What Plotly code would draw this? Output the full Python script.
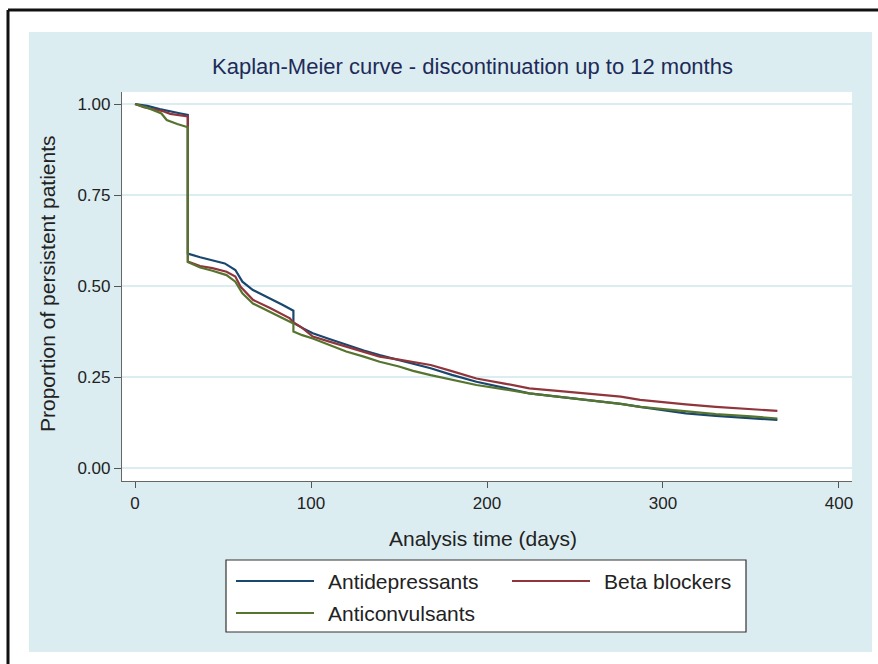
import plotly.graph_objects as go

# ---------------- data ----------------
days_antidep = [0, 7, 14, 20, 26, 30, 30, 37, 44, 51, 57, 61, 67, 77, 84, 90, 90, 95, 101, 110, 120,
                130, 139, 150, 158, 168, 180, 194, 210, 224, 240, 257, 276, 287, 300, 313, 330, 350, 365]
surv_antidep = [1.0, 0.995, 0.986, 0.981, 0.974, 0.970, 0.589, 0.579, 0.571, 0.562, 0.544, 0.512, 0.489,
                0.466, 0.448, 0.432, 0.399, 0.385, 0.370, 0.355, 0.338, 0.323, 0.310, 0.296, 0.286, 0.274,
                0.256, 0.237, 0.220, 0.205, 0.196, 0.187, 0.176, 0.168, 0.160, 0.150, 0.143, 0.137, 0.132]

days_beta = [0, 5, 10, 16, 20, 30, 30, 37, 44, 52, 57, 60, 67, 77, 88, 90, 95, 101, 110, 120, 130,
             139, 150, 158, 168, 180, 194, 210, 224, 240, 257, 276, 287, 300, 313, 330, 350, 365]
surv_beta = [1.0, 0.991, 0.986, 0.980, 0.973, 0.966, 0.567, 0.555, 0.549, 0.539, 0.526, 0.498, 0.462,
             0.439, 0.411, 0.400, 0.385, 0.361, 0.348, 0.333, 0.320, 0.306, 0.298, 0.292, 0.283, 0.266,
             0.246, 0.232, 0.219, 0.212, 0.205, 0.196, 0.187, 0.182, 0.175, 0.168, 0.162, 0.157]

days_anticonv = [0, 8, 15, 18, 24, 28, 30, 30, 37, 44, 52, 57, 61, 67, 77, 88, 90, 90, 95, 101, 110,
                 120, 130, 139, 150, 158, 168, 180, 194, 210, 224, 240, 257, 276, 287, 300, 313, 330, 350, 365]
surv_anticonv = [1.0, 0.988, 0.974, 0.956, 0.945, 0.938, 0.936, 0.566, 0.551, 0.542, 0.530, 0.512, 0.480,
                 0.452, 0.429, 0.402, 0.397, 0.375, 0.365, 0.356, 0.338, 0.320, 0.306, 0.292, 0.279, 0.267,
                 0.255, 0.243, 0.228, 0.216, 0.205, 0.196, 0.187, 0.176, 0.168, 0.162, 0.155, 0.148, 0.142, 0.136]

series_names = ["Antidepressants", "Beta blockers", "Anticonvulsants"]
series_colors = ["#1a476f", "#90353b", "#55752f"]
x_ticks = [0, 100, 200, 300, 400]
y_ticks = [0.0, 0.25, 0.5, 0.75, 1.0]
y_ticklabels = ["0.00", "0.25", "0.50", "0.75", "1.00"]

# ---------------- layout geometry (pixels) ----------------
W, H = 878, 664
L, R, T, B = 122, 852, 92, 481          # plot area edges
pw, ph = R - L, B - T


def px(x):
    return (x - L) / pw


def py(y):
    return (B - y) / ph


FONT = "Liberation Sans, Arial, sans-serif"
BG = "#dcedf1"

fig = go.Figure()
data = [(days_antidep, surv_antidep), (days_beta, surv_beta), (days_anticonv, surv_anticonv)]
for (d, s), name, col in zip(data, series_names, series_colors):
    fig.add_trace(go.Scatter(x=d, y=s, mode="lines", name=name,
                             line=dict(color=col, width=2.2), showlegend=False))

shapes = [
    # light blue graph region
    dict(type="rect", xref="paper", yref="paper", x0=px(29), x1=px(872), y0=py(652), y1=py(32),
         fillcolor=BG, line=dict(width=0), layer="below"),
    # white plot region
    dict(type="rect", xref="paper", yref="paper", x0=0, x1=1, y0=0, y1=1,
         fillcolor="white", line=dict(width=0), layer="below"),
    # black outer frame (top and left)
    dict(type="line", xref="paper", yref="paper", x0=px(8), x1=px(880), y0=py(10), y1=py(10),
         line=dict(color="#111111", width=3)),
    dict(type="line", xref="paper", yref="paper", x0=px(8), x1=px(8), y0=py(10), y1=py(666),
         line=dict(color="#111111", width=3)),
    # legend box
    dict(type="rect", xref="paper", yref="paper", x0=px(226), x1=px(746), y0=py(632), y1=py(560),
         fillcolor="white", line=dict(color="#333333", width=1.2)),
]

annotations = [
    dict(text="Kaplan-Meier curve - discontinuation up to 12 months", xref="paper", yref="paper",
         x=px(472), y=py(67), showarrow=False, xanchor="center", yanchor="middle",
         font=dict(family=FONT, size=22, color="#1e2b58")),
    dict(text="Analysis time (days)", xref="paper", yref="paper", x=px(483), y=py(538),
         showarrow=False, xanchor="center", yanchor="middle",
         font=dict(family=FONT, size=21, color="#222222")),
    dict(text="Proportion of persistent patients", xref="paper", yref="paper", x=px(47), y=py(284),
         showarrow=False, xanchor="center", yanchor="middle", textangle=-90,
         font=dict(family=FONT, size=21, color="#222222")),
]

# custom legend entries
legend_pos = [(236, 581), (512, 581), (236, 613)]
for name, col, (lx, ly) in zip(series_names, series_colors, legend_pos):
    shapes.append(dict(type="line", xref="paper", yref="paper", x0=px(lx), x1=px(lx + 78),
                       y0=py(ly), y1=py(ly), line=dict(color=col, width=2)))
    annotations.append(dict(text=name, xref="paper", yref="paper", x=px(lx + 90), y=py(ly),
                            showarrow=False, xanchor="left", yanchor="middle",
                            font=dict(family=FONT, size=21, color="#222222")))

fig.update_layout(
    width=W, height=H,
    margin=dict(l=L, r=W - R, t=T, b=H - B, autoexpand=False),
    paper_bgcolor="white", plot_bgcolor="white",
    font=dict(family=FONT, size=17, color="#222222"),
    shapes=shapes, annotations=annotations, showlegend=False,
    xaxis=dict(range=[-7.4, 407.4], tickvals=x_ticks, ticks="outside", ticklen=6,
               tickcolor="#555555", showline=True, linecolor="#666666", linewidth=1.2,
               showgrid=False, zeroline=False, tickfont=dict(size=17, color="#222222"),
               automargin=False, fixedrange=True),
    yaxis=dict(range=[-0.0357, 1.033], tickvals=y_ticks, ticktext=y_ticklabels, ticks="outside",
               ticklen=7, tickcolor="#555555", showline=True, linecolor="#666666", linewidth=1.2,
               showgrid=True, gridcolor="#dcedf1", gridwidth=1.5, zeroline=False,
               tickfont=dict(size=17, color="#222222"), automargin=False, fixedrange=True),
)

fig.write_html("out.html")
